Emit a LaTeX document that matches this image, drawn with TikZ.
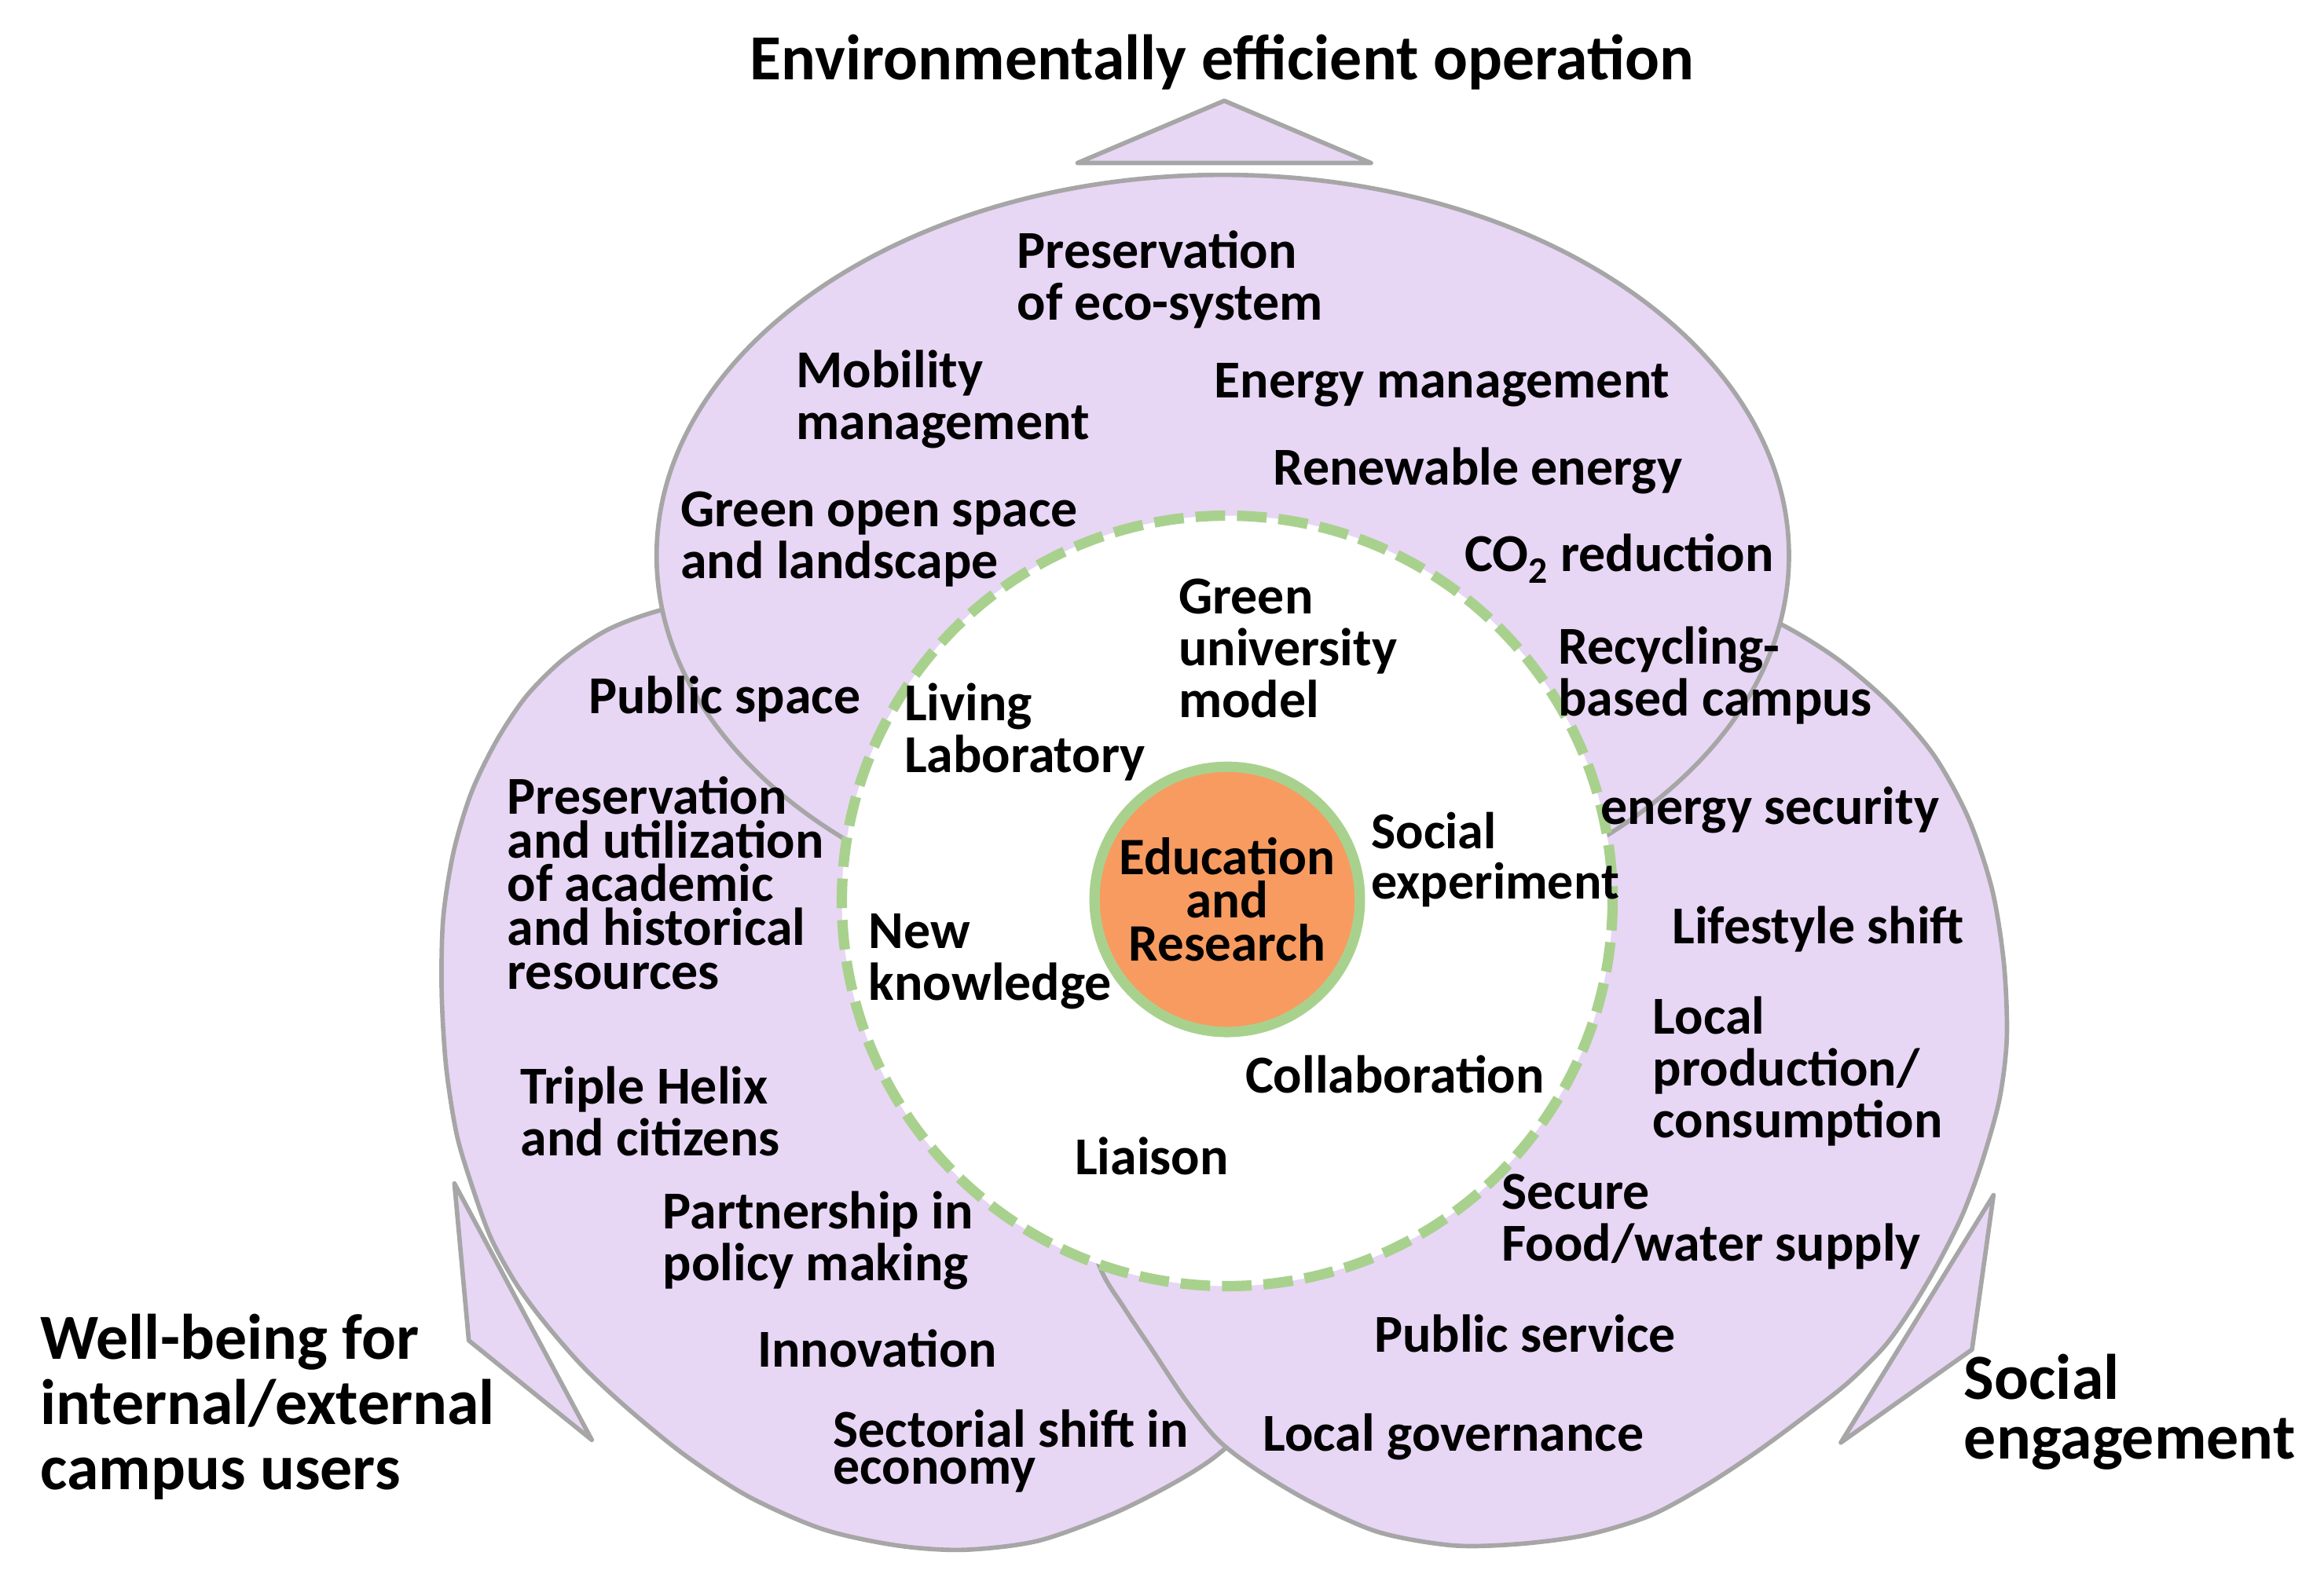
\documentclass[tikz,border=0pt]{standalone}
\usepackage{fontspec}
\setmainfont{Carlito}
\definecolor{lav}{RGB}{232,214,245}
\definecolor{edge}{RGB}{166,166,166}
\definecolor{ringgreen}{RGB}{169,209,142}
\definecolor{core}{RGB}{248,155,96}
\begin{document}
\begin{tikzpicture}[x=1pt,y=-1pt,
  blob/.style={fill=lav,draw=edge,line width=3pt,line join=round},
  txt/.style={font=\bfseries\fontsize{36}{35}\selectfont,align=left,anchor=west,inner sep=0pt},
  big/.style={font=\bfseries\fontsize{43.4}{42}\selectfont,align=left,anchor=west,inner sep=0pt}]
\useasboundingbox (0,0) rectangle (1568,1062);

% pointer triangles
\filldraw[blob] (727,110) -- (826,68) -- (925,110) -- cycle;
\filldraw[blob] (306.6,798.7) -- (316.3,904.7) -- (399.3,971.8) -- cycle;
\filldraw[blob] (1345,806.6) -- (1330.5,910.8) -- (1242,973.6) -- cycle;

% left lobe
\filldraw[blob] plot[smooth cycle,tension=0.5] coordinates {
  (445,412) (410,425) (380,445) (355,470) (335,500) (318,535) (306,575)
  (299,620) (298,670) (301,720) (308,765) (318,799) (331,835) (348,866)
  (367,892) (393,922) (424,951) (462,982) (505,1010) (555,1032)
  (605,1043) (650,1046) (700,1040) (750,1022) (790,1002) (820,983)
  (850,955) (870,920) (880,860) (860,700) (760,520) (640,420) (560,396)
  (500,400)};
% right lobe
\filldraw[blob] plot[smooth cycle,tension=0.5] coordinates {
  (1201,421) (1240,445) (1275,475) (1305,510) (1328,552) (1344,600)
  (1352,650) (1354,700) (1349,742) (1337,785) (1324,820) (1308,852)
  (1291,881) (1272,908) (1247,933) (1219,955) (1185,980) (1150,1003)
  (1113,1023) (1070,1036) (1025,1042) (980,1043) (930,1034) (885,1014)
  (848,992) (822,972) (800,945) (778,912) (758,882) (742,855)
  (725,800) (730,700) (800,560) (950,470) (1080,410) (1150,400)};
% top lobe
\filldraw[blob] (825,375) ellipse [x radius=382, y radius=257];

% inner white circle with dashed green rim
\fill[white] (828,608) circle [radius=260];
\draw[ringgreen,line width=7pt,dash pattern=on 20pt off 8pt] (828,608) circle [radius=260];

% core
\node[circle,fill=core,draw=ringgreen,line width=7pt,minimum size=179pt,inner sep=0pt,
      align=center,font=\bfseries\fontsize{35.5}{29}\selectfont] (core) at (828,607)
  {Education\\and\\Research};

% headings
\node[font=\bfseries\fontsize{43.4}{44}\selectfont,inner sep=0pt] (title) at (824.5,42)
  {Environmentally efficient operation};
\node[big,font=\bfseries\fontsize{43.4}{44}\selectfont] (wellbeing) at (27,949.5)
  {Well-being for\\internal/external\\campus users};
\node[big,font=\bfseries\fontsize{43.4}{40}\selectfont] (social) at (1325,953)
  {Social\\engagement};

% top lobe texts
\node[txt] (ecosys) at (686,188.5) {Preservation\\of eco-system};
\node[txt] (mobility) at (537,269.5) {Mobility\\management};
\node[txt] (energy) at (819,260) {Energy management};
\node[txt] (renew) at (859,318) {Renewable energy};
\node[txt] (green) at (459,364) {Green open space\\and landscape};
\node[txt] (co2) at (988,377) {CO\textsubscript{2} reduction};
\node[txt] (recyc) at (1051,456) {Recycling-\\based campus};

% inner circle texts
\node[txt] (gum) at (795,437.5) {Green\\university\\model};
\node[txt] (living) at (610,494) {Living\\Laboratory};
\node[txt,font=\bfseries\fontsize{35}{34}\selectfont] (socexp) at (925,580) {Social\\experiment};
\node[txt] (newk) at (586,649) {New\\knowledge};
\node[txt] (collab) at (840,725) {Collaboration};
\node[txt] (liaison) at (725,780) {Liaison};

% left lobe texts
\node[txt] (pubspace) at (397,472) {Public space};
\node[txt,font=\bfseries\fontsize{36}{29.5}\selectfont] (heritage) at (342,596)
  {Preservation\\and utilization\\of academic\\and historical\\resources};
\node[txt] (helix) at (351,750) {Triple Helix\\and citizens};
\node[txt] (policy) at (447,837) {Partnership in\\policy making};
\node[txt] (innov) at (511,910) {Innovation};
\node[txt,font=\bfseries\fontsize{36}{25}\selectfont] (sector) at (562,979.5) {Sectorial shift in\\economy};

% right lobe texts
\node[txt] (esec) at (1080,547) {energy security};
\node[txt] (life) at (1128,627) {Lifestyle shift};
\node[txt] (local) at (1115,723) {Local\\production/\\consumption};
\node[txt] (food) at (1013,824.5) {Secure\\Food/water supply};
\node[txt] (pserv) at (927,900) {Public service};
\node[txt] (gov) at (852,970) {Local governance};
\end{tikzpicture}
\end{document}
